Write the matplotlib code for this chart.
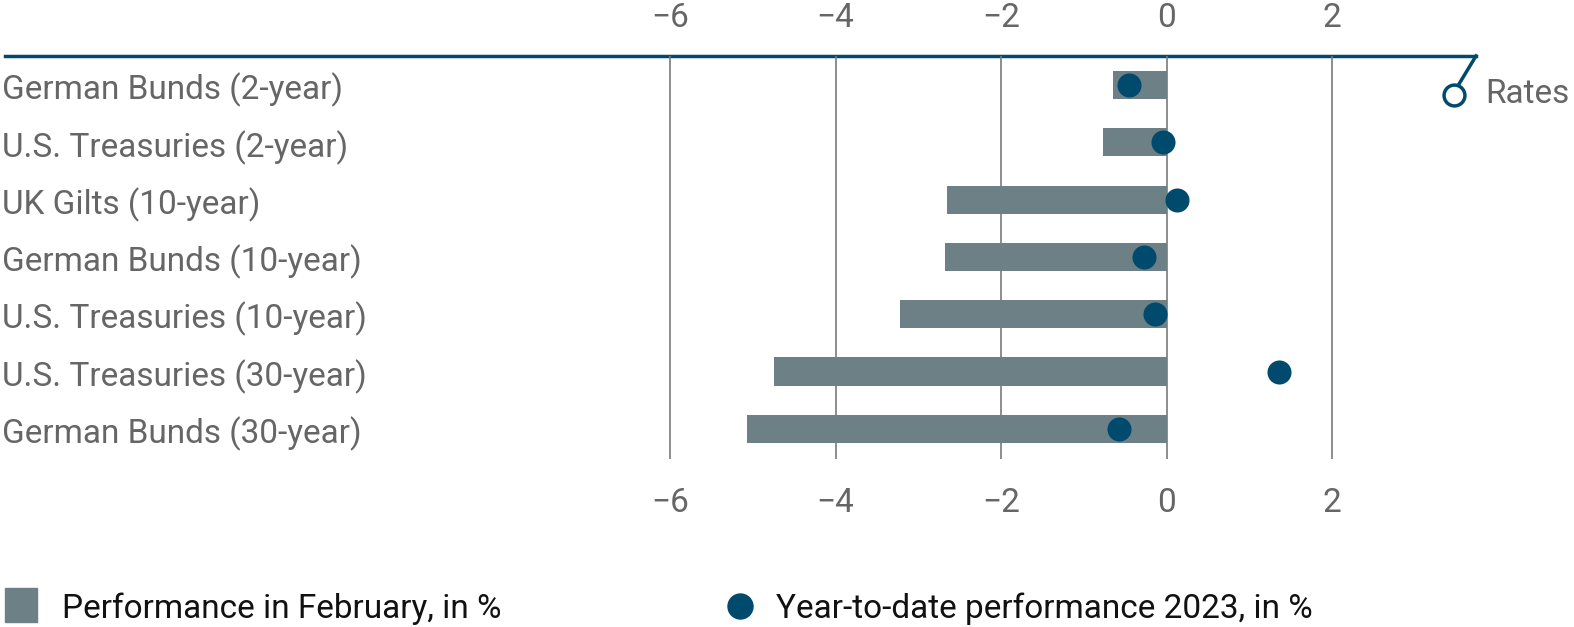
import matplotlib.pyplot as plt
from matplotlib.lines import Line2D
from matplotlib.transforms import offset_copy

categories = [
    "German Bunds (2-year)",
    "U.S. Treasuries (2-year)",
    "UK Gilts (10-year)",
    "German Bunds (10-year)",
    "U.S. Treasuries (10-year)",
    "U.S. Treasuries (30-year)",
    "German Bunds (30-year)",
]
feb_perf = [-0.65, -0.77, -2.66, -2.68, -3.22, -4.75, -5.07]
ytd_perf = [-0.46, -0.04, 0.13, -0.27, -0.14, 1.36, -0.58]
xticks = [-6, -4, -2, 0, 2]
xtick_labels = [str(t).replace("-", "\u2212") for t in xticks]

BAR = "#6c8085"
DOT = "#004a6d"
GRID = "#7a7a7a"
TXT = "#666666"
plt.rcParams["font.family"] = ["Roboto", "DejaVu Sans"]

W, H = 1574, 627
fig = plt.figure(figsize=(W / 100, H / 100), dpi=100)
# axes spans from the left edge of the rule to its right end
ax = fig.add_axes([5 / W, 1 - 459 / H, (1476 - 5) / W, (459 - 56) / H])

y = list(range(len(categories)))
ax.barh(y, feb_perf, height=0.49, color=BAR, zorder=2)
ax.scatter(ytd_perf, y, s=300, color=DOT, zorder=3, linewidths=0)

ax.set_xlim(-14.04, 3.74)
ax.set_ylim(6.527, -0.506)
ax.set_xticks(xticks)
ax.set_xticklabels(xtick_labels)
ax.set_yticks([])
ax.tick_params(axis="x", length=0, labelsize=24, colors=TXT, pad=20.5)
for t in xticks:
    ax.axvline(t, color=GRID, lw=1.2, zorder=1)

for s in ["left", "right", "bottom", "top"]:
    ax.spines[s].set_visible(False)

top = ax.secondary_xaxis("top")
top.set_xticks(xticks)
top.set_xticklabels(xtick_labels)
top.tick_params(axis="x", length=0, labelsize=24, colors=TXT, pad=15.5)
top.spines["top"].set_color(DOT)
top.spines["top"].set_linewidth(2.5)

lab_trans = offset_copy(ax.get_yaxis_transform(), fig=fig, y=-5, units="dots")
for yi, name in zip(y, categories):
    ax.text(-0.002, yi, name, transform=lab_trans,
            ha="left", va="center", fontsize=24, color=TXT)

# "Rates" tag hanging off the right end of the rule
def px(x, yy):
    return (x / W, 1 - yy / H)

(x0, y0), (x1, y1) = px(1476, 56), px(1459, 84)
fig.add_artist(Line2D([x0, x1], [y0, y1], color=DOT, lw=2.5,
                      transform=fig.transFigure))
cx, cy = px(1454, 95)
fig.add_artist(Line2D([cx], [cy], marker="o", markersize=15,
                      markerfacecolor="white", markeredgecolor=DOT,
                      markeredgewidth=2.5, transform=fig.transFigure))
fig.text(*px(1485, 94), "Rates", ha="left", va="center", fontsize=24, color=TXT)

# legend
fig.add_artist(plt.Rectangle(px(5, 622), 32 / W, 34 / H, color=BAR,
                             transform=fig.transFigure))
fig.text(*px(62, 609), "Performance in February, in %", ha="left", va="center",
         fontsize=24, color="#111111")
mx, my = px(740, 606)
fig.add_artist(Line2D([mx], [my], marker="o", markersize=18, color=DOT,
                      linestyle="none", transform=fig.transFigure))
fig.text(*px(776, 609), "Year-to-date performance 2023, in %", ha="left",
         va="center", fontsize=24, color="#111111")

fig.savefig("out.png", dpi=100)
